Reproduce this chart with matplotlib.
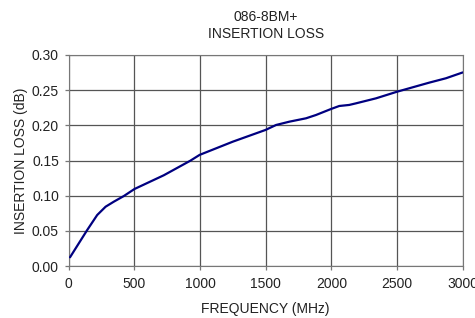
import numpy as np
import matplotlib
matplotlib.use('Agg')
from matplotlib import pyplot as plt

plt.rcParams['font.family'] = ['Liberation Sans', 'DejaVu Sans']

# frequency (MHz) and insertion loss (dB)
freq = [10, 141, 217, 281, 344, 420, 501, 724, 926, 997, 1250, 1498, 1579, 1680, 1807,
        1883, 1997, 2060, 2136, 2188, 2340, 2500, 2745, 2872, 3000]
loss = [0.0124, 0.0512, 0.0725, 0.0843, 0.0915, 0.0995, 0.1095, 0.129, 0.1497, 0.158,
        0.1768, 0.1934, 0.2005, 0.2052, 0.210, 0.2147, 0.2232, 0.2275, 0.229, 0.2313,
        0.2384, 0.2478, 0.2607, 0.2669, 0.2752]
xticks = [0, 500, 1000, 1500, 2000, 2500, 3000]
yticks = [0.00, 0.05, 0.10, 0.15, 0.20, 0.25, 0.30]

fig = plt.figure(figsize=(4.75, 3.18), dpi=100)
ax = fig.add_axes([68.7 / 475, 1 - 266 / 318, 394 / 475, 211 / 318])

ax.plot(freq, loss, color='#000080', lw=1.6, zorder=3, solid_capstyle='round')

ax.set_xlim(0, 3000)
ax.set_ylim(0, 0.30)
ax.set_xticks(xticks)
ax.set_yticks(yticks)
ax.set_yticklabels(['%.2f' % v for v in yticks])
ax.grid(True, color='#555555', lw=0.9)
for s in ax.spines.values():
    s.set_color('#777777')
ax.tick_params(colors='#777777', labelcolor='#222222', labelsize=10, length=3, width=0.9)
ax.tick_params(axis='x', pad=5)
ax.tick_params(axis='y', pad=4)

ax.set_xlabel('FREQUENCY (MHz)', fontsize=10, color='#222222', labelpad=8)
ax.set_ylabel('INSERTION LOSS (dB)', fontsize=10, color='#222222', labelpad=3)
ax.set_title('086-8BM+\nINSERTION LOSS', fontsize=10, color='#222222', pad=12.5, linespacing=1.2)

fig.savefig('out.png', dpi=100)
